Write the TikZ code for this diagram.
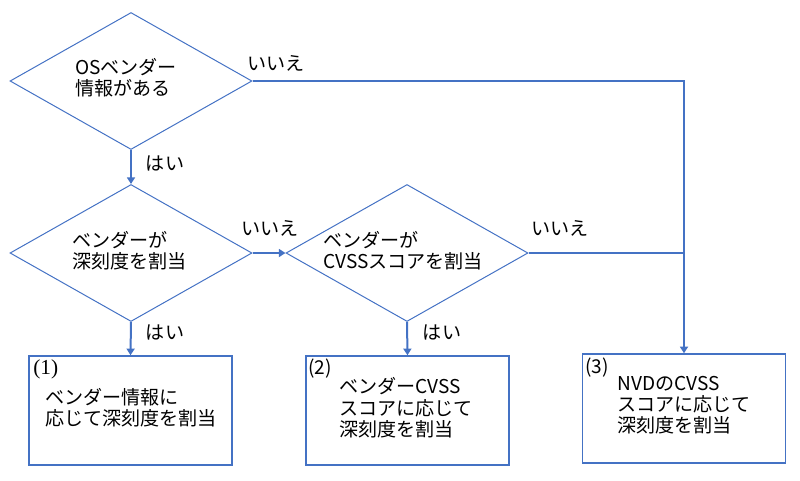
\documentclass[tikz,border=0pt]{standalone}
\usepackage{fontspec}
\setmainfont{Noto Sans CJK JP}
\newfontfamily\numserif{Liberation Serif}
\usetikzlibrary{shapes.geometric,arrows.meta}
\definecolor{flowblue}{HTML}{4472C4}
\begin{document}
\begin{tikzpicture}[x=0.75pt,y=-0.75pt,
  decision/.style={diamond,draw=flowblue,line width=0.75pt,minimum width=181.5pt,minimum height=102.75pt,inner sep=0pt},
  result/.style={rectangle,draw=flowblue,line width=1.1pt,minimum width=152.25pt,minimum height=81.75pt,inner sep=0pt},
  txt/.style={font=\fontsize{14.3}{16}\selectfont,align=left,inner sep=0pt,anchor=west},
  lbl/.style={font=\fontsize{14.3}{16}\selectfont,inner sep=0pt},
  flow/.style={draw=flowblue,line width=1.5pt},
  arr/.style={flow,-{Triangle[width=6pt,length=5pt]}}]
\useasboundingbox (0,0) rectangle (800,480);
% decisions
\node[decision] (d1) at (131,81) {};
\node[decision] (d2) at (131,253) {};
\node[decision] (d3) at (407,253) {};
\node[txt] (t1) at (75,78) {OSベンダー\\情報がある};
\node[txt] (t2) at (72,251) {ベンダーが\\深刻度を割当};
\node[txt] (t3) at (323,251) {ベンダーが\\CVSSスコアを割当};
% results
\node[result] (b1) at (130.5,410.5) {};
\node[result] (b2) at (407.5,410.5) {};
\node[result] (b3) at (684,408.5) {};
\node[lbl,anchor=west,font=\fontsize{16}{18}\selectfont] (n1) at (33,369) {\numserif (1)};
\node[lbl,anchor=west] (n2) at (308,369) {(2)};
\node[lbl,anchor=west] (n3) at (585,368) {(3)};
\node[txt] (r1) at (45,408) {ベンダー情報に\\応じて深刻度を割当};
\node[txt] (r2) at (339,408) {ベンダーCVSS\\スコアに応じて\\深刻度を割当};
\node[txt] (r3) at (617,405) {NVDのCVSS\\スコアに応じて\\深刻度を割当};
% connectors
\draw[arr] (d1.south) -- (d2.north);
\draw[arr] (d2.east) -- (d3.west);
\draw[arr] (d2.south) -- (b1.north);
\draw[arr] (d3.south) -- (b2.north);
\draw[arr] (d1.east) -| (b3.north);
\coordinate (j) at (b3.north |- d3.east);
\draw[flow] (d3.east) -- (j);
% labels
\node[lbl] (l1) at (276,63) {いいえ};
\node[lbl] (l2) at (165,163) {はい};
\node[lbl] (l3) at (270,228) {いいえ};
\node[lbl] (l4) at (165,332) {はい};
\node[lbl] (l5) at (560,228) {いいえ};
\node[lbl] (l6) at (442,332) {はい};
\end{tikzpicture}
\end{document}
